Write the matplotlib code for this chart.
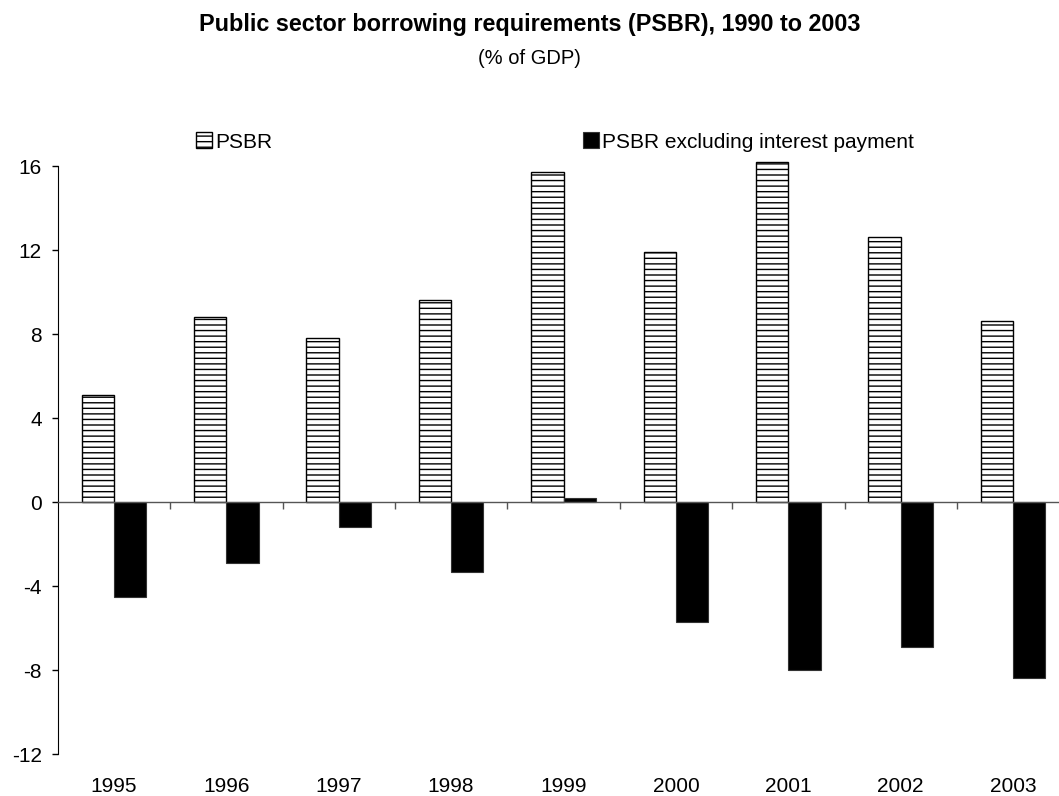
import matplotlib.pyplot as plt
import numpy as np

# data (% of GDP)
years = ['1995', '1996', '1997', '1998', '1999', '2000', '2001', '2002', '2003']
psbr = [5.1, 8.8, 7.8, 9.6, 15.7, 11.9, 16.2, 12.6, 8.6]
psbr_ex_interest = [-4.5, -2.9, -1.2, -3.35, 0.2, -5.7, -8.0, -6.9, -8.4]

plt.rcParams['font.family'] = ['Liberation Sans', 'DejaVu Sans']
plt.rcParams['hatch.linewidth'] = 1.0
plt.rcParams['axes.unicode_minus'] = False

W, H = 1059, 796
fig = plt.figure(figsize=(W / 100, H / 100), dpi=100)
ax = fig.add_axes([57.7 / W, 42 / H, 1 - 57.7 / W, (754 - 166) / H])

x = np.arange(len(years))
width = 0.287

ax.bar(x - width / 2, psbr, width, facecolor='white', edgecolor='black',
       hatch='---', linewidth=1.0, label='PSBR', clip_on=False)
ax.bar(x + width / 2, psbr_ex_interest, width, color='black',
       edgecolor='#333333', linewidth=0.8, label='PSBR excluding interest payment')

ax.set_ylim(-12, 16)
ax.set_xlim(-0.5, -0.5 + (W - 57.7) / 112.4)
ax.set_yticks(np.arange(-12, 17, 4))
ax.tick_params(axis='y', direction='out', length=4.5, width=1, labelsize=15, pad=7)

for s in ['top', 'right']:
    ax.spines[s].set_visible(False)
ax.spines['left'].set_color('black')
ax.spines['bottom'].set_position(('data', 0))
ax.spines['bottom'].set_color('#555555')
ax.spines['bottom'].set_linewidth(1.0)

# small ticks on the zero line between years
ax.set_xticks(x[:-1] + 0.5, minor=True)
ax.set_xticks([])
ax.tick_params(axis='x', which='minor', direction='out', length=5, width=1, color='#555555')

# year labels along the bottom
sec = ax.secondary_xaxis(0.0)
sec.set_xticks(x)
sec.set_xticklabels(years)
sec.tick_params(length=0, labelsize=15, pad=16.5)
sec.spines['bottom'].set_visible(False)

ax.set_zorder(1)

fig.text(0.5, 1 - 25 / H, 'Public sector borrowing requirements (PSBR), 1990 to 2003',
         ha='center', va='center', fontsize=16.8, fontweight='bold')
fig.text(0.5, 1 - 58 / H, '(% of GDP)', ha='center', va='center', fontsize=14.5)

fig.legend(loc='center left', bbox_to_anchor=(196 / W, 1 - 142 / H), ncol=2,
           frameon=False, fontsize=15, handlelength=0.77, handleheight=0.77,
           handletextpad=0.16, columnspacing=14.9, borderaxespad=0, borderpad=0)

fig.savefig('out.png', dpi=100, facecolor='white')
